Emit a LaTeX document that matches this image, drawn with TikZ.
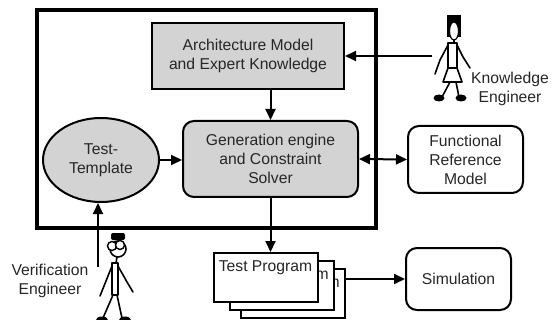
\documentclass[tikz,border=0pt]{standalone}
\usepackage{fontspec}
\setmainfont{Liberation Sans}
\usepackage{xcolor}
\usepackage{tikz}
\usetikzlibrary{shapes,arrows.meta,calc}
\definecolor{boxgray}{HTML}{D3D3D3}
\definecolor{textgray}{HTML}{262626}
\tikzstyle{tsText} = [
    text=textgray,
    font=\fontsize{15.7}{19}\selectfont
]
\tikzstyle{tsWraptext} = [
    tsText,
    align=center
]
\tikzstyle{tsBlock} = [
    rectangle,
    tsWraptext,
    draw=black,
    line width=2pt,
    inner sep=0pt]
\tikzstyle{tsRounded} = [
    tsBlock,
    rounded corners=11pt]
\tikzstyle{tsProgram} = [
    tsBlock,
    fill=white,
    minimum width=104pt,
    text height=18pt,
    text depth=31pt]
\tikzstyle{tsArrow} = [
    line width=2pt,
    -{Triangle[length=11pt,width=10pt]}]
\tikzstyle{tsDoubleArrow} = [
    line width=2pt,
    {Triangle[length=11pt,width=10pt]}-{Triangle[length=11pt,width=10pt]}]
\tikzstyle{tsFigure} = [
    line width=1.6pt,
    line cap=round,
    line join=round]

\begin{document}
\begin{tikzpicture}[x=1pt, y=-1pt]
        \useasboundingbox (0,0) rectangle (553,320);

        % generator frame
        \draw[line width=4pt] (37,10) rectangle (376,228);

        \node[  tsBlock,
                fill=boxgray,
                minimum width=192pt,
                minimum height=66pt] (arch) at (248,56) {Architecture Model\\and Expert Knowledge};
        \node[  tsRounded,
                fill=boxgray,
                minimum width=175pt,
                minimum height=76pt] (gen) at (270.5,159) {Generation engine\\and Constraint\\Solver};
        \node[  ellipse,
                tsWraptext,
                draw=black,
                line width=2pt,
                fill=boxgray,
                inner sep=0pt,
                minimum width=116pt,
                minimum height=84pt] (tmpl) at (101,160) {Test-\\Template};
        \node[  tsRounded,
                minimum width=115pt,
                minimum height=67pt] (func) at (465.5,159.5) {Functional\\Reference\\Model};
        \node[  tsRounded,
                minimum width=105pt,
                minimum height=62pt] (sim) at (458.5,279) {Simulation};

        % stack of test programs, back to front
        \node[tsProgram] (prog3) at (293,293.5) {Test Program};
        \node[tsProgram] (prog2) at (282,285.5) {Test Program};
        \node[tsProgram] (prog1) at (265.5,277.5) {Test Program};

        \node[tsWraptext] (kname) at (510,89) {Knowledge\\Engineer};
        \node[tsWraptext] (vname) at (50,281) {Verification\\Engineer};

        \coordinate (khand) at (432,56);
        \coordinate (vhand) at (98,267);

        \draw[tsArrow] (khand) -- (arch.east);
        \draw[tsArrow] (gen.north |- arch.south) -- (gen.north);
        \draw[tsArrow] (tmpl.east) -- (tmpl.east -| gen.west);
        \draw[tsDoubleArrow] (gen.east) -- (func.west);
        \draw[tsArrow] (gen.south) -- (gen.south |- prog1.north);
        \draw[tsArrow] (prog3.east |- sim.west) -- (sim.west);
        \draw[tsArrow] (vhand) -- (vhand |- tmpl.south);

        % knowledge engineer
        \fill (447,15) rectangle (461,37);
        \filldraw[fill=white, line width=1.2pt] (454,31) ellipse (4.5pt and 9pt);
        \draw[tsFigure] (454,40) -- (454,43);
        \draw[tsFigure] (448,43) rectangle (457,68);
        \draw[tsFigure] (448,68) -- (443,82) -- (462,82) -- (457,68);
        \draw[tsFigure] (448,45) -- (440,60) -- (435,74);
        \draw[tsFigure] (457,45) -- (463,57) -- (470,68);
        \draw[tsFigure] (450,82) -- (442,97);
        \draw[tsFigure] (456,82) -- (459,97);
        \fill (439,98) ellipse (5.5pt and 3.5pt);
        \fill (461,98) ellipse (5.5pt and 3.5pt);

        % verification engineer
        \fill[rounded corners=2pt] (111,233) rectangle (125,240);
        \draw[tsFigure] (118,249) circle (8pt);
        \filldraw[fill=white, line width=1.4pt] (112,246) circle (4.5pt);
        \filldraw[fill=white, line width=1.4pt] (120,245) circle (4.5pt);
        \draw[tsFigure] (117,257) -- (116,263);
        \draw[tsFigure] (112,263) rectangle (118,295);
        \draw[tsFigure] (112,266) -- (100,296);
        \draw[tsFigure] (118,266) -- (127,282) -- (133,292);
        \draw[tsFigure] (113,295) -- (103,318);
        \draw[tsFigure] (117,295) -- (122,318);
        \fill (102,320) ellipse (6pt and 3.5pt);
        \fill (125,320) ellipse (6pt and 3.5pt);
\end{tikzpicture}
\end{document}
